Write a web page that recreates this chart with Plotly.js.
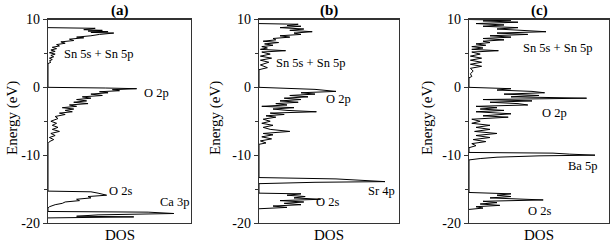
<!DOCTYPE html>
<html><head><meta charset="utf-8">
<script src="https://cdn.plot.ly/plotly-3.0.1.min.js"></script>
<style>html,body{margin:0;padding:0;background:#fff}#chart{width:610px;height:245px}</style>
</head><body><div id="chart"></div>
<script>
// Panel (a) CaSnO3 : energy (eV) and DOS (arb. units, fraction of panel width)
const energyA = [8.8,8.7,8.5,8.4,8.3,8.2,8.1,8.0,7.8,7.6,7.4,7.3,7.1,6.9,6.7,6.5,6.3,6.1,5.9,5.7,5.5,5.3,5.1,4.9,4.7,4.5,4.3,4.1,3.9,3.7,3.5,
  0.0,-0.1,-0.2,-0.35,-0.5,-0.65,-0.8,-1.0,-1.2,-1.4,-1.6,-1.8,-2.0,-2.2,-2.4,-2.6,-2.8,-3.0,-3.2,-3.4,-3.6,-3.8,-4.0,-4.3,-4.6,-5.0,-5.3,-5.6,-5.9,-6.2,-6.5,-6.8,-7.1,-7.4,-7.7,-8.0,-8.3,
  -15.3,-15.4,-15.6,-15.9,-16.1,-16.3,-16.5,-16.7,-16.9,-17.1,-17.3,-17.6,-17.8,
  -18.3,-18.4,-18.6,-18.8,-19.0,-19.1,-19.25];
const dosA = [0,0.33,0.25,0.38,0.28,0.42,0.30,0.46,0.36,0.30,0.20,0.25,0.15,0.18,0.09,0.12,0.06,0.08,0.03,0.06,0.02,0.05,0.01,0.05,0.02,0.04,0.01,0.03,0.01,0.02,0,
  0,0.40,0.62,0.45,0.50,0.36,0.42,0.30,0.38,0.24,0.30,0.20,0.27,0.18,0.28,0.15,0.20,0.10,0.18,0.12,0.17,0.08,0.12,0.05,0.07,0.02,0.06,0.03,0.07,0.03,0.08,0.02,0.05,0.01,0.04,0.01,0,
  0,0.30,0.35,0.41,0.28,0.30,0.20,0.22,0.12,0.10,0.05,0.01,0,
  0,0.70,0.88,0.35,0.20,0.60,0];

// Panel (b) SrSnO3
const energyB = [9.4,9.3,9.1,9.0,8.8,8.6,8.4,8.2,8.0,7.8,7.6,7.4,7.2,7.0,6.8,6.6,6.4,6.2,6.0,5.8,5.6,5.4,5.2,4.9,4.6,4.3,4.0,3.7,3.3,2.9,2.6,
  0,-0.3,-0.6,-0.8,-1.0,-1.2,-1.4,-1.6,-1.8,-2.0,-2.2,-2.4,-2.6,-2.8,-3.0,-3.2,-3.4,-3.6,-3.8,-4.0,-4.2,-4.4,-4.7,-5.0,-5.3,-5.6,-5.9,-6.2,-6.5,-6.8,-7.0,-7.3,-7.6,-7.9,-8.2,-8.4,
  -13.3,-13.5,-13.7,-13.9,-14.0,-14.1,-14.2,
  -15.6,-15.7,-15.9,-16.1,-16.3,-16.5,-16.7,-16.9,-17.1,-17.3,-17.5,-17.7,-17.9];
const dosB = [0,0.28,0.20,0.30,0.15,0.32,0.22,0.38,0.25,0.30,0.15,0.22,0.10,0.12,0.03,0.14,0.04,0.10,0.02,0.06,0.01,0.19,0.02,0.08,0.01,0.09,0.01,0.07,0.01,0.06,0,
  0,0.40,0.55,0.30,0.40,0.22,0.35,0.18,0.30,0.15,0.28,0.12,0.20,0.02,0.25,0.10,0.20,0.41,0.08,0.18,0.05,0.12,0.03,0.08,0.02,0.10,0.03,0.08,0.22,0.03,0.10,0.02,0.09,0.01,0.05,0,
  0,0.55,0.75,0.90,0.40,0.10,0,
  0,0.30,0.20,0.33,0.25,0.44,0.15,0.32,0.18,0.30,0.10,0.20,0];

// Panel (c) BaSnO3
const energyC = [10.0,9.9,9.8,9.6,9.4,9.2,9.0,8.8,8.6,8.4,8.2,8.0,7.8,7.6,7.4,7.2,7.0,6.8,6.6,6.4,6.2,6.0,5.8,5.6,5.4,5.2,4.9,4.6,4.3,4.0,3.7,3.4,3.1,2.8,2.4,2.0,1.6,1.4,
  0,-0.2,-0.4,-0.6,-0.8,-1.0,-1.2,-1.4,-1.6,-1.8,-2.0,-2.2,-2.4,-2.6,-2.8,-3.0,-3.2,-3.4,-3.6,-3.9,-4.2,-4.4,-4.7,-5.0,-5.3,-5.6,-5.9,-6.2,-6.5,-6.8,-7.1,-7.4,-7.7,-8.0,-8.3,-8.6,-8.9,
  -9.6,-9.7,-9.85,-10.0,-10.1,-10.3,-10.5,-10.7,
  -15.5,-15.7,-15.9,-16.1,-16.3,-16.6,-16.8,-17.0,-17.2,-17.4,-17.6,-17.8,-18.0];
const dosC = [0,0.30,0.10,0.35,0.05,0.25,0.10,0.35,0.20,0.42,0.55,0.20,0.42,0.15,0.30,0.10,0.25,0.10,0.15,0.05,0.12,0.02,0.10,0.02,0.21,0.02,0.08,0.01,0.09,0.01,0.09,0.01,0.09,0.01,0.03,0.01,0.02,0,
  0,0.30,0.20,0.45,0.54,0.25,0.50,0.30,0.84,0.10,0.45,0.15,0.35,0.42,0.05,0.20,0.08,0.25,0.05,0.30,0.10,0.28,0.02,0.08,0.02,0.15,0.05,0.15,0.04,0.20,0.05,0.15,0.03,0.12,0.02,0.05,0,
  0,0.60,0.72,0.90,0.50,0.20,0.08,0,
  0,0.30,0.20,0.30,0.15,0.53,0.10,0.20,0.08,0.22,0.05,0.10,0];

const panelTitles = ['(a)','(b)','(c)'];
const bandLabelsA = [['Sn 5s + Sn 5p',0.10,4.9],['O 2p',0.66,-0.84],['O 2s',0.41,-15.3],['Ca 3p',0.77,-16.9]];
const bandLabelsB = [['Sn 5s + Sn 5p',0.107,3.6],['O 2p',0.464,-1.72],['Sr 4p',0.764,-15.28],['O 2s',0.393,-16.9]];
const bandLabelsC = [['Sn 5s + Sn 5p',0.371,5.8],['O 2p',0.507,-3.78],['Ba 5p',0.693,-11.6],['O 2s',0.407,-18.23]];
const yTickVals = [-20,-10,0,10];
const yTickText = ['-20','-10','0','10'];

const W = 610, H = 245;
const serif = 'Liberation Serif';
const domainsX = [[48/W,191/W],[259/W,399/W],[469/W,609/W]];
const domY = [(H-223)/H,(H-19.5)/H];

const traces = [[energyA,dosA],[energyB,dosB],[energyC,dosC]].map((d,i)=>({
  x: d[1], y: d[0], type:'scatter', mode:'lines',
  line:{color:'#000',width:1}, xaxis: i===0?'x':'x'+(i+1), yaxis: i===0?'y':'y'+(i+1),
  hoverinfo:'skip', showlegend:false
}));

const layout = {
  width:W, height:H, margin:{l:0,r:0,t:0,b:0},
  paper_bgcolor:'#fff', plot_bgcolor:'#fff',
  font:{family:serif,color:'#000',size:13},
  annotations:[]
};
const labelSets = [bandLabelsA,bandLabelsB,bandLabelsC];
const ylabX = [12,215,427];
for (let i=0;i<3;i++){
  const sx = i===0?'':String(i+1);
  layout['xaxis'+sx] = {domain:domainsX[i], range:[0,1], anchor:'y'+sx, showline:true, mirror:true,
    linecolor:'#333', linewidth:1.3, showgrid:false, zeroline:false, ticks:'', showticklabels:false, fixedrange:true};
  layout['yaxis'+sx] = {domain:domY, range:[-20,10], anchor:'x'+sx, showline:true, mirror:true,
    linecolor:'#333', linewidth:1.3, showgrid:false, zeroline:false, ticks:'outside', ticklen:4, tickwidth:1,
    tickcolor:'#333', tickvals:yTickVals, ticktext:yTickText, tickfont:{family:serif,size:14,color:'#000'},
    minor:{dtick:5, ticks:'outside', ticklen:3, tickcolor:'#333', showgrid:false}, fixedrange:true};
  const cx = (domainsX[i][0]+domainsX[i][1])/2;
  layout.annotations.push({text:'<b>'+panelTitles[i]+'</b>', xref:'paper', yref:'paper', x:cx, y:(H-10)/H,
    showarrow:false, xanchor:'center', yanchor:'middle', font:{family:serif,size:15,color:'#000'}});
  layout.annotations.push({text:'DOS', xref:'paper', yref:'paper', x:cx, y:(H-235)/H,
    showarrow:false, xanchor:'center', yanchor:'middle', font:{family:serif,size:15,color:'#000'}});
  layout.annotations.push({text:'Energy (eV)', xref:'paper', yref:'paper', x:ylabX[i]/W, y:(H-118)/H,
    showarrow:false, xanchor:'center', yanchor:'middle', textangle:-90, font:{family:serif,size:15,color:'#000'}});
  labelSets[i].forEach(l=>{
    layout.annotations.push({text:l[0], xref:'x'+sx, yref:'y'+sx, x:l[1], y:l[2], showarrow:false,
      xanchor:'left', yanchor:'middle', font:{family:serif,size:12.5,color:'#000'}});
  });
}
Plotly.newPlot('chart', traces, layout, {staticPlot:true, displayModeBar:false});
</script></body></html>
